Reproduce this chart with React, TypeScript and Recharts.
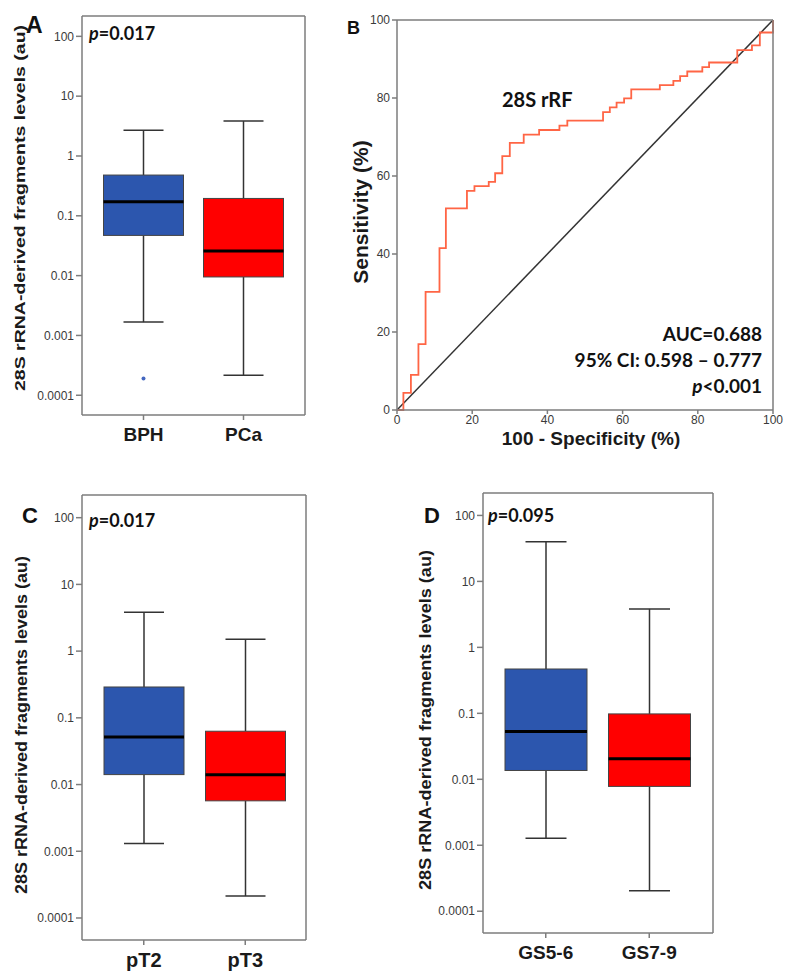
import React from 'react';
import { ComposedChart, Bar, XAxis, YAxis, Line, ReferenceLine, Label } from 'recharts';

// ---------- data ----------
const decadeTicks = [0.0001, 0.001, 0.01, 0.1, 1, 10, 100];
const logDomain: [number, number] = [Math.pow(10, -4.33), Math.pow(10, 2.34)];

// Panel A
const groupsA = ['BPH', 'PCa'];
const lowA = [0.00167, 0.000215];
const q1A = [0.047, 0.0095];
const medA = [0.171, 0.0258];
const q3A = [0.48, 0.195];
const highA = [2.7, 3.83];
const outliersA = [[0.00019], []];

// Panel C
const groupsC = ['pT2', 'pT3'];
const lowC = [0.00131, 0.000213];
const q1C = [0.0141, 0.0057];
const medC = [0.0514, 0.014];
const q3C = [0.29, 0.063];
const highC = [3.82, 1.5];

// Panel D
const groupsD = ['GS5-6', 'GS7-9'];
const lowD = [0.00128, 0.000204];
const q1D = [0.0136, 0.0078];
const medD = [0.053, 0.0205];
const q3D = [0.47, 0.098];
const highD = [39.8, 3.83];

// Panel B (ROC)
const rocFpr = [0, 1.7, 3.7, 5.7, 7.6, 11.3, 13.0, 18.6, 20.6, 24.4, 26.1, 28.0, 30.0, 33.7, 37.8, 43.2, 45.3, 54.8, 56.6, 58.4, 60.4, 62.3, 69.9, 73.5, 75.3, 77.2, 81.2, 83.0, 90.5, 94.4, 96.5, 100];
const rocTpr = [0, 4.4, 9.0, 16.9, 30.3, 41.5, 51.7, 56.2, 57.4, 58.5, 60.7, 65.1, 68.5, 70.6, 71.8, 72.9, 74.2, 76.4, 77.6, 78.8, 79.9, 82.2, 83.3, 84.4, 85.6, 86.8, 87.9, 89.1, 92.3, 93.5, 96.8, 100];
const rocTicks = [0, 20, 40, 60, 80, 100];

const boxColors = ['#2C56AE', '#FF0000'];

// ---------- helpers ----------
const buildBoxData = (
  names: string[], low: number[], q1: number[], med: number[], q3: number[], high: number[], outs?: number[][]
) =>
  names.map((name, i) => ({
    name, low: low[i], q1: q1[i], med: med[i], q3: q3[i], high: high[i], out: outs ? outs[i] : [], color: boxColors[i],
  }));

const dataA = buildBoxData(groupsA, lowA, q1A, medA, q3A, highA, outliersA);
const dataC = buildBoxData(groupsC, lowC, q1C, medC, q3C, highC);
const dataD = buildBoxData(groupsD, lowD, q1D, medD, q3D, highD);
const rocData = rocFpr.map((f, i) => ({ fpr: f, tpr: rocTpr[i] }));

const BoxShape = (props: any) => {
  const { x, y, width, height, payload } = props;
  if (!payload) return null;
  const lo = payload.low, hi = payload.high;
  const top = Math.min(y, y + height);
  const bot = Math.max(y, y + height);
  const span = Math.log10(hi) - Math.log10(lo);
  const pos = (v: number) => top + ((Math.log10(hi) - Math.log10(v)) / span) * (bot - top);
  const cx = x + width / 2;
  const cap = width / 4;
  const wStroke = '#333';
  return (
    <g>
      <line x1={cx} x2={cx} y1={pos(hi)} y2={pos(payload.q3)} stroke={wStroke} strokeWidth={1.5} />
      <line x1={cx} x2={cx} y1={pos(payload.q1)} y2={pos(lo)} stroke={wStroke} strokeWidth={1.5} />
      <line x1={cx - cap} x2={cx + cap} y1={pos(hi)} y2={pos(hi)} stroke={wStroke} strokeWidth={1.5} />
      <line x1={cx - cap} x2={cx + cap} y1={pos(lo)} y2={pos(lo)} stroke={wStroke} strokeWidth={1.5} />
      <rect x={x} y={pos(payload.q3)} width={width} height={pos(payload.q1) - pos(payload.q3)} fill={payload.color} stroke="#444" strokeWidth={1} />
      <line x1={x} x2={x + width} y1={pos(payload.med)} y2={pos(payload.med)} stroke="#000" strokeWidth={3} />
      {payload.out.map((v: number, k: number) => (
        <circle key={k} cx={cx} cy={pos(v)} r={2} fill="#4467c0" />
      ))}
    </g>
  );
};

const frameStroke = '#7d7d7d';
const tickFont = { fontSize: 12, fill: '#3a3a3a', fontFamily: 'Liberation Sans, Arial, sans-serif' };

const yTitle = (text: string, cxOff: number, cyOff: number, fontSize: number, len?: number) => (p: any) => {
  const vb = p.viewBox || { x: 0, y: 0, width: 0, height: 0 };
  const cx = vb.x + cxOff;
  const cy = vb.y + cyOff;
  return (
    <text
      x={cx}
      y={cy}
      transform={`rotate(-90 ${cx} ${cy})`}
      textAnchor="middle"
      dominantBaseline="central"
      fontFamily="Liberation Sans, Arial, sans-serif"
      fontWeight="bold"
      fontSize={fontSize}
      fill="#1a1a1a"
      {...(len ? { textLength: len, lengthAdjust: 'spacingAndGlyphs' } : {})}
    >
      {text}
    </text>
  );
};

type BoxPanelProps = {
  data: any[];
  width: number;
  height: number;
  plotLeft: number;
  plotTop: number;
  plotRight: number;
  plotBottom: number;
  padL: number;
  padR: number;
  barSize: number;
  labelSize: number;
  titleX: number;
  titleY: number;
  titleSize: number;
  titleLen: number;
};

const BoxPanel = (p: BoxPanelProps) => (
  <ComposedChart
    width={p.width}
    height={p.height}
    data={p.data}
    margin={{ top: p.plotTop - 1, right: p.width - p.plotRight - 1, bottom: 0, left: 0 }}
  >
    <XAxis
      xAxisId="x"
      dataKey="name"
      type="category"
      padding={{ left: p.padL, right: p.padR }}
      height={p.height - p.plotBottom}
      axisLine={{ stroke: frameStroke, strokeWidth: 1.5 }}
      tickLine={{ stroke: frameStroke, strokeWidth: 1.5 }}
      tickSize={5}
      tickMargin={8}
      tick={{ fontSize: p.labelSize, fill: '#1a1a1a', fontWeight: 'bold', fontFamily: 'Liberation Sans, Arial, sans-serif' }}
      interval={0}
    />
    <XAxis xAxisId="top" orientation="top" dataKey="name" type="category" height={1} tick={false} tickLine={false} axisLine={{ stroke: frameStroke, strokeWidth: 1.5 }} />
    <YAxis
      yAxisId="y"
      type="number"
      scale="log"
      domain={logDomain}
      allowDataOverflow
      ticks={decadeTicks}
      tickFormatter={(v: number) => String(v)}
      width={p.plotLeft}
      axisLine={{ stroke: frameStroke, strokeWidth: 1.5 }}
      tickLine={{ stroke: frameStroke, strokeWidth: 1.5 }}
      tickSize={6}
      tickMargin={2}
      tick={tickFont}
      interval={0}
    >
      <Label content={yTitle('28S rRNA-derived fragments levels (au)', p.titleX, p.titleY, p.titleSize, p.titleLen)} />
    </YAxis>
    <YAxis yAxisId="right" orientation="right" type="number" domain={[0, 1]} width={1} tick={false} tickLine={false} axisLine={{ stroke: frameStroke, strokeWidth: 1.5 }} />
    <Bar
      xAxisId="x"
      yAxisId="y"
      dataKey={(d: any) => [d.low, d.high]}
      barSize={p.barSize}
      shape={BoxShape}
      isAnimationActive={false}
    />
  </ComposedChart>
);

const RocPanel = () => (
  <ComposedChart width={448} height={460} data={rocData} margin={{ top: 19, right: 14, bottom: 0, left: 0 }}>
    <XAxis
      xAxisId="x"
      type="number"
      dataKey="fpr"
      domain={[0, 100]}
      ticks={rocTicks}
      height={50}
      axisLine={{ stroke: frameStroke, strokeWidth: 1.5 }}
      tickLine={{ stroke: frameStroke, strokeWidth: 1.5 }}
      tickSize={4}
      tickMargin={1}
      tick={tickFont}
      interval={0}
    >
      <Label
        content={(lp: any) => {
          const vb = lp.viewBox || { x: 0, y: 0, width: 0, height: 0 };
          return (
            <text x={vb.x + vb.width / 2 + 6} y={vb.y + 28} textAnchor="middle" dominantBaseline="central" fontFamily="Liberation Sans, Arial, sans-serif" fontWeight="bold" fontSize={19} fill="#1a1a1a">
              100 - Specificity (%)
            </text>
          );
        }}
      />
    </XAxis>
    <XAxis xAxisId="top" orientation="top" type="number" domain={[0, 100]} height={1} tick={false} tickLine={false} axisLine={{ stroke: frameStroke, strokeWidth: 1.5 }} />
    <YAxis
      yAxisId="y"
      type="number"
      domain={[0, 100]}
      ticks={rocTicks}
      width={57}
      axisLine={{ stroke: frameStroke, strokeWidth: 1.5 }}
      tickLine={{ stroke: frameStroke, strokeWidth: 1.5 }}
      tickSize={5}
      tickMargin={2}
      tick={tickFont}
      interval={0}
    >
      <Label content={yTitle('Sensitivity (%)', 20, 192, 21)} />
    </YAxis>
    <YAxis yAxisId="right" orientation="right" type="number" domain={[0, 100]} width={1} tick={false} tickLine={false} axisLine={{ stroke: frameStroke, strokeWidth: 1.5 }} />
    <ReferenceLine xAxisId="x" yAxisId="y" segment={[{ x: 0, y: 0 }, { x: 100, y: 100 }]} stroke="#333" strokeWidth={1.5} />
    <Line xAxisId="x" yAxisId="y" type="stepAfter" dataKey="tpr" stroke="#FF6545" strokeWidth={1.8} dot={false} isAnimationActive={false} />
  </ComposedChart>
);

const annoFont = 'Lato, Open Sans, sans-serif';

export default function App() {
  return (
    <div style={{ position: 'absolute', left: 0, top: 0, width: 788, height: 979, background: '#fff', overflow: 'hidden' }}>
      <div style={{ position: 'absolute', left: 0, top: 0 }}>
        <BoxPanel data={dataA} width={394} height={460} plotLeft={82} plotTop={16} plotRight={305} plotBottom={415} padL={11.5} padR={11.5} barSize={80} labelSize={19} titleX={19} titleY={192} titleSize={15} titleLen={366} />
      </div>
      <div style={{ position: 'absolute', left: 340, top: 0 }}>
        <RocPanel />
      </div>
      <div style={{ position: 'absolute', left: 0, top: 460 }}>
        <BoxPanel data={dataC} width={394} height={519} plotLeft={82} plotTop={35} plotRight={306} plotBottom={480} padL={11} padR={10} barSize={80} labelSize={20} titleX={21} titleY={230} titleSize={16} titleLen={338} />
      </div>
      <div style={{ position: 'absolute', left: 394, top: 460 }}>
        <BoxPanel data={dataD} width={394} height={519} plotLeft={89} plotTop={33} plotRight={319} plotBottom={473} padL={11} padR={12} barSize={82} labelSize={19} titleX={31} titleY={227} titleSize={16} titleLen={340} />
      </div>
      <svg width={788} height={979} style={{ position: 'absolute', left: 0, top: 0, pointerEvents: 'none' }}>
        <g fontFamily="Liberation Sans, Arial, sans-serif" fontWeight="bold" fill="#111">
          <text x={26} y={33} fontSize={23}>A</text>
          <text x={347} y={34} fontSize={18}>B</text>
          <text x={22} y={523} fontSize={22}>C</text>
          <text x={424} y={523} fontSize={22}>D</text>
        </g>
        <g fontFamily={annoFont} fontWeight="bold" fill="#111" fontSize={18}>
          <text x={89} y={40}><tspan fontStyle="italic">p</tspan>=0.017</text>
          <text x={89} y={527}><tspan fontStyle="italic">p</tspan>=0.017</text>
          <text x={488} y={522}><tspan fontStyle="italic">p</tspan>=0.095</text>
        </g>
        <g fontFamily={annoFont} fontWeight="bold" fill="#111">
          <text x={502} y={107} fontSize={20}>28S rRF</text>
          <text x={762} y={341} fontSize={19} textAnchor="end">AUC=0.688</text>
          <text x={762} y={367} fontSize={19} textAnchor="end">95% CI: 0.598 – 0.777</text>
          <text x={762} y={393} fontSize={19} textAnchor="end"><tspan fontStyle="italic">p</tspan>&lt;0.001</text>
        </g>
      </svg>
    </div>
  );
}
